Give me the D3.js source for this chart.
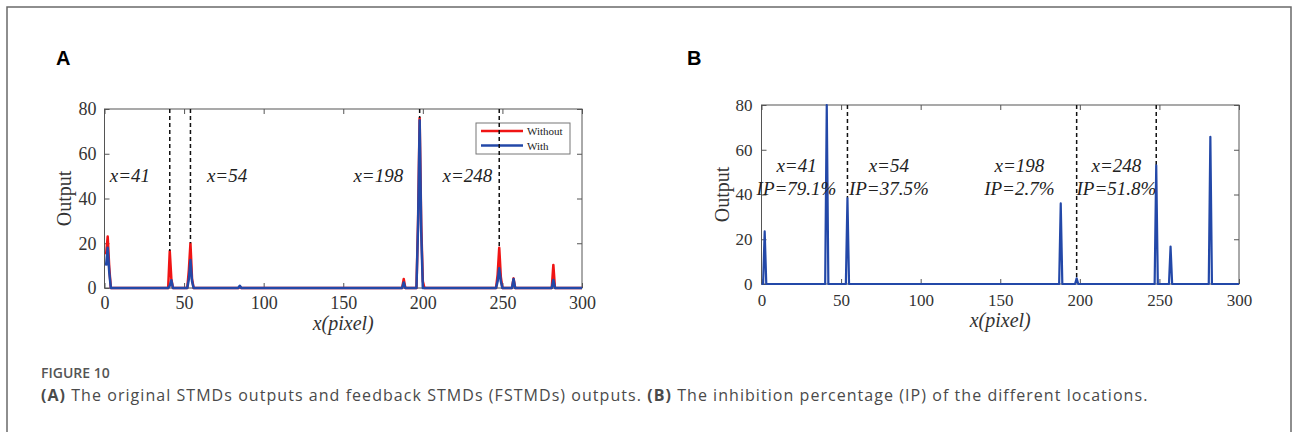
<!DOCTYPE html>
<html>
<head>
<meta charset="utf-8">
<script src="https://cdn.jsdelivr.net/npm/d3@7"></script>
<style>
  body { margin: 0; background: #fff; }
  svg { display: block; }
</style>
</head>
<body>
<div id="chart"></div>
<script>
// Tick values shared by both panels
const xTicks = [0, 50, 100, 150, 200, 250, 300];
const yTicks = [0, 20, 40, 60, 80];

// Panel A: original STMD output (Without) and feedback STMD output (With)
const withoutX = [1, 2, 3, 4, 40, 41, 42, 43, 52, 53, 54, 55, 56, 84, 85, 86, 187, 188, 189, 196, 197, 198, 199, 200, 201, 246, 247, 248, 249, 250, 256, 257, 258, 281, 282, 283, 300];
const withoutY = [15, 23, 9, 0, 0, 16.5, 4, 0, 0, 8, 20, 4, 0, 0, 0.5, 0, 0, 4, 0, 0, 30, 76, 28, 3, 0, 0, 6, 18, 5, 0, 0, 4.3, 0, 0, 10.3, 0, 0];
const withX = [1, 2, 3, 4, 40, 41, 42, 43, 52, 53, 54, 55, 56, 84, 85, 86, 187, 188, 189, 196, 197, 198, 199, 200, 246, 247, 248, 249, 250, 256, 257, 258, 281, 282, 283, 300];
const withY = [10, 18, 7, 0, 0, 1, 3.5, 0, 0, 4, 12.5, 3, 0, 0, 1, 0, 0, 2.5, 0, 0, 28, 75, 25, 0, 0, 3, 8.8, 3, 0, 0, 4, 0, 0, 3.6, 0, 0];

// Panel B: output used for the inhibition percentage
const ipX = [0, 1, 2, 3, 40, 41, 42, 53, 54, 55, 187, 188, 189, 197, 198, 199, 247, 248, 249, 256, 257, 258, 281, 282, 283, 300];
const ipY = [0, 0, 23.5, 0, 0, 80, 0, 0, 38.3, 0, 0, 36, 0, 0, 2.5, 0, 0, 53, 0, 0, 16.7, 0, 0, 65.8, 0, 0];

// Marked locations and their inhibition percentages
const markedX = [41, 54, 198, 248];
const ipLabels = ['IP=79.1%', 'IP=37.5%', 'IP=2.7%', 'IP=51.8%'];

const seriesNames = ['Without', 'With'];
const seriesColors = ['#f01414', '#2348a8'];

const width = 1293, height = 432;
const svg = d3.select('#chart').append('svg')
    .attr('width', width)
    .attr('height', height);

// Outer frame (bottom edge runs off the picture)
svg.append('path')
    .attr('d', `M7,${height} V7 H1291 V${height}`)
    .attr('fill', 'none')
    .attr('stroke', '#6a6a6a')
    .attr('stroke-width', 1.5);

const serif = 'Liberation Serif, Times New Roman, serif';

function drawPanel(opts) {
    const x = d3.scaleLinear().domain([0, 300]).range([opts.left, opts.right]);
    const y = d3.scaleLinear().domain([0, 80]).range([opts.bottom, opts.top]);
    const g = svg.append('g');

    // box
    g.append('rect')
        .attr('x', opts.left).attr('y', opts.top)
        .attr('width', opts.right - opts.left)
        .attr('height', opts.bottom - opts.top)
        .attr('fill', 'none')
        .attr('stroke', '#555')
        .attr('stroke-width', 1);

    // axes with inner ticks
    g.append('g').attr('transform', `translate(0,${opts.bottom})`)
        .call(d3.axisBottom(x).tickValues(xTicks).tickSizeInner(-5).tickSizeOuter(0).tickPadding(opts.xPad));
    g.append('g').attr('transform', `translate(0,${opts.top})`)
        .call(d3.axisTop(x).tickValues(xTicks).tickSizeInner(-5).tickSizeOuter(0).tickFormat(''));
    g.append('g').attr('transform', `translate(${opts.left},0)`)
        .call(d3.axisLeft(y).tickValues(yTicks).tickSizeInner(-5).tickSizeOuter(0).tickPadding(opts.yPad));
    g.append('g').attr('transform', `translate(${opts.right},0)`)
        .call(d3.axisRight(y).tickValues(yTicks).tickSizeInner(-5).tickSizeOuter(0).tickFormat(''));

    g.selectAll('.domain').remove();
    g.selectAll('.tick line').attr('stroke', '#555');
    g.selectAll('.tick text')
        .style('font-family', serif)
        .style('font-size', opts.tickSize + 'px')
        .attr('fill', '#333');

    // axis labels
    g.append('text')
        .attr('x', (opts.left + opts.right) / 2)
        .attr('y', opts.bottom + opts.xLabelDy)
        .attr('text-anchor', 'middle')
        .style('font-family', serif)
        .style('font-style', 'italic')
        .style('font-size', '20px')
        .attr('fill', '#333')
        .text('x(pixel)');
    g.append('text')
        .attr('transform', `translate(${opts.yLabelX},${(opts.top + opts.bottom) / 2}) rotate(-90)`)
        .attr('text-anchor', 'middle')
        .style('font-family', serif)
        .style('font-size', '20px')
        .attr('fill', '#333')
        .text('Output');

    // panel letter
    svg.append('text')
        .attr('x', opts.letterX)
        .attr('y', 65)
        .style('font-family', 'Liberation Sans, Arial, sans-serif')
        .style('font-weight', 'bold')
        .style('font-size', '20px')
        .attr('fill', '#000')
        .text(opts.letter);

    return { g, x, y };
}

const line = (x, y) => d3.line().x(d => x(d[0])).y(d => y(d[1]));
const valueAt = (xs, ys, v) => ys[xs.indexOf(v)];

// ---------- Panel A ----------
const A = drawPanel({ left: 104.5, right: 582, top: 109, bottom: 288, xPad: 8, yPad: 8, tickSize: 18, xLabelDy: 42, yLabelX: 71, letter: 'A', letterX: 56 });

A.g.append('path')
    .datum(d3.zip(withoutX, withoutY))
    .attr('d', line(A.x, A.y))
    .attr('fill', 'none')
    .attr('stroke', seriesColors[0])
    .attr('stroke-width', 2.5)
    .attr('stroke-linejoin', 'round');
A.g.append('path')
    .datum(d3.zip(withX, withY))
    .attr('d', line(A.x, A.y))
    .attr('fill', 'none')
    .attr('stroke', seriesColors[1])
    .attr('stroke-width', 2.5)
    .attr('stroke-linejoin', 'round');

// legend
const leg = A.g.append('g');
leg.append('rect')
    .attr('x', 476).attr('y', 123).attr('width', 94).attr('height', 31)
    .attr('fill', '#fff').attr('stroke', '#777').attr('stroke-width', 1);
seriesNames.forEach((name, i) => {
    leg.append('line')
        .attr('x1', 481).attr('x2', 523)
        .attr('y1', 131 + i * 14.5).attr('y2', 131 + i * 14.5)
        .attr('stroke', seriesColors[i]).attr('stroke-width', 2.5);
    leg.append('text')
        .attr('x', 527).attr('y', 135 + i * 14.5)
        .style('font-family', serif)
        .style('font-size', '11px')
        .attr('fill', '#222')
        .text(name);
});

// dashed markers from the top down to the peak
A.g.selectAll('.markA')
    .data(markedX)
    .enter()
    .append('line')
    .attr('x1', d => A.x(d)).attr('x2', d => A.x(d))
    .attr('y1', A.y(80))
    .attr('y2', d => A.y(valueAt(withoutX, withoutY, d)))
    .attr('stroke', '#111')
    .attr('stroke-width', 1.5)
    .attr('stroke-dasharray', '4,3');

const annA = [[16, 182], [77, 182], [172, 182], [228, 182]];
A.g.selectAll('.annA')
    .data(markedX)
    .enter()
    .append('text')
    .attr('x', (d, i) => A.x(annA[i][0]))
    .attr('y', (d, i) => annA[i][1])
    .attr('text-anchor', 'middle')
    .style('font-family', serif)
    .style('font-style', 'italic')
    .style('font-size', '19px')
    .attr('fill', '#222')
    .text(d => 'x=' + d);

// ---------- Panel B ----------
const B = drawPanel({ left: 761.5, right: 1239, top: 105, bottom: 284, xPad: 10, yPad: 9, tickSize: 17, xLabelDy: 43, yLabelX: 729, letter: 'B', letterX: 687 });

B.g.selectAll('.markB')
    .data(markedX)
    .enter()
    .append('line')
    .attr('x1', d => B.x(d)).attr('x2', d => B.x(d))
    .attr('y1', B.y(80))
    .attr('y2', d => B.y(valueAt(ipX, ipY, d)))
    .attr('stroke', '#111')
    .attr('stroke-width', 1.5)
    .attr('stroke-dasharray', '4,3');

B.g.append('path')
    .datum(d3.zip(ipX, ipY))
    .attr('d', line(B.x, B.y))
    .attr('fill', 'none')
    .attr('stroke', seriesColors[1])
    .attr('stroke-width', 2.2)
    .attr('stroke-linejoin', 'round');

const annB = [22, 80, 162, 223];
markedX.forEach((d, i) => {
    const t = B.g.append('text')
        .attr('text-anchor', 'middle')
        .style('font-family', serif)
        .style('font-style', 'italic')
        .style('font-size', '19px')
        .attr('fill', '#222');
    t.append('tspan').attr('x', B.x(annB[i])).attr('y', 172).text('x=' + d);
    t.append('tspan').attr('x', B.x(annB[i])).attr('y', 195).text(ipLabels[i]);
});

// ---------- Caption ----------
svg.append('text')
    .attr('x', 41).attr('y', 378)
    .style('font-family', 'Open Sans, sans-serif')
    .style('font-weight', 600)
    .style('font-size', '14px')
    .attr('fill', '#555')
    .text('FIGURE 10');

const cap = svg.append('text')
    .attr('x', 41).attr('y', 401)
    .style('font-family', 'Open Sans, sans-serif')
    .style('font-size', '16px')
    .style('letter-spacing', '1.05px')
    .attr('fill', '#4a4a4a');
cap.append('tspan').style('font-weight', 'bold').text('(A)');
cap.append('tspan').text(' The original STMDs outputs and feedback STMDs (FSTMDs) outputs. ');
cap.append('tspan').style('font-weight', 'bold').text('(B)');
cap.append('tspan').text(' The inhibition percentage (IP) of the different locations.');
</script>
</body>
</html>
